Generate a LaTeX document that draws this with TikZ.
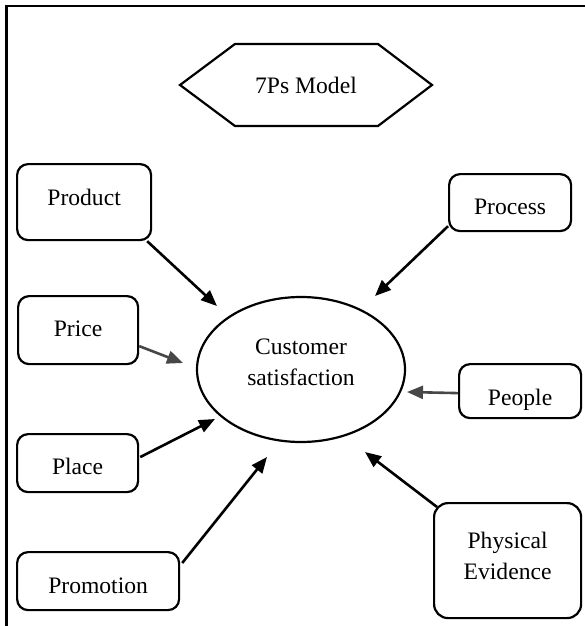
\documentclass[tikz,border=0pt]{standalone}
\usepackage{fontspec}
\setmainfont{Liberation Serif}
\usetikzlibrary{arrows.meta,calc,shapes.geometric}

% two centred lines whose baseline is the first line's
\newcommand\stackpair[2]{\vtop{\halign{\hfil##\hfil\cr#1\cr#2\cr}}}

\tikzset{
  txt/.style={font=\fontsize{23.6}{31.5}\selectfont},
  outline/.style={line width=2.2pt},
  pbox/.style={txt, draw, outline, rounded corners=11pt,
    inner sep=0pt, anchor=north west},
  feed/.style={-{Triangle[length=16pt,width=13pt]}, line width=2.6pt},
  faint/.style={draw=black!72},
}

\begin{document}
\begin{tikzpicture}[x=1pt,y=-1pt]
\useasboundingbox (0,0) rectangle (585,626);

% page frame
\draw[line width=2.2pt] (6.5,626) -- (6.5,5.7) -- (585,5.7);

% title hexagon
\node[txt, anchor=base, inner sep=0pt] (model) at (306,93) {7Ps Model};
\draw[outline] (180,85) -- (235,44) -- (378,44) -- (432,85)
  -- (378,126) -- (235,126) -- cycle;

% central ellipse
\node[txt, ellipse, draw, outline, inner sep=0pt,
  minimum width=208pt, minimum height=145pt,
  text height=20pt, text depth=51pt] (cs) at (301,369.5)
  {\stackpair{Customer}{satisfaction}};

% the seven factors
\node[pbox, minimum width=134pt, text height=41pt, text depth=35pt]
  (product) at (16,163) {Product};
\node[pbox, minimum width=120pt, text height=40pt, text depth=28pt]
  (price) at (17,295) {Price};
\node[pbox, minimum width=121pt, text height=40pt, text depth=18pt]
  (place) at (16,433) {Place};
\node[pbox, minimum width=162pt, text height=41pt, text depth=17pt]
  (promotion) at (16,551) {Promotion};
\node[pbox, minimum width=122pt, text height=40pt, text depth=17pt]
  (process) at (448,173) {Process};
\node[pbox, minimum width=122pt, text height=41pt, text depth=13pt]
  (people) at (458,363) {People};
\node[pbox, rounded corners=14pt, minimum width=147pt,
  text height=45pt, text depth=70pt]
  (physical) at (433,502) {\stackpair{Physical}{Evidence}};

% arrow end points near the ellipse
\coordinate (tProduct) at (217,306);
\coordinate (tPrice) at (183,363);
\coordinate (tPlace) at (215,419);
\coordinate (tPromotion) at (267,457);
\coordinate (tProcess) at (375,296);
\coordinate (tPeople) at (407,392);
\coordinate (tPhysical) at (365,452);

\draw[feed] ($(product.south east)+(-5,0)$) -- (tProduct);
\draw[feed, faint] ($(price.east)+(0,16)$) -- (tPrice);
\draw[feed] ($(place.east)+(1,-6)$) -- (tPlace);
\draw[feed] ($(promotion.north east)+(2,12)$) -- (tPromotion);
\draw[feed] ($(process.south west)+(0,-6)$) -- (tProcess);
\draw[feed, faint] ($(people.west)+(0,2)$) -- (tPeople);
\draw[feed] ($(physical.north west)+(4,5)$) -- (tPhysical);
\end{tikzpicture}
\end{document}
